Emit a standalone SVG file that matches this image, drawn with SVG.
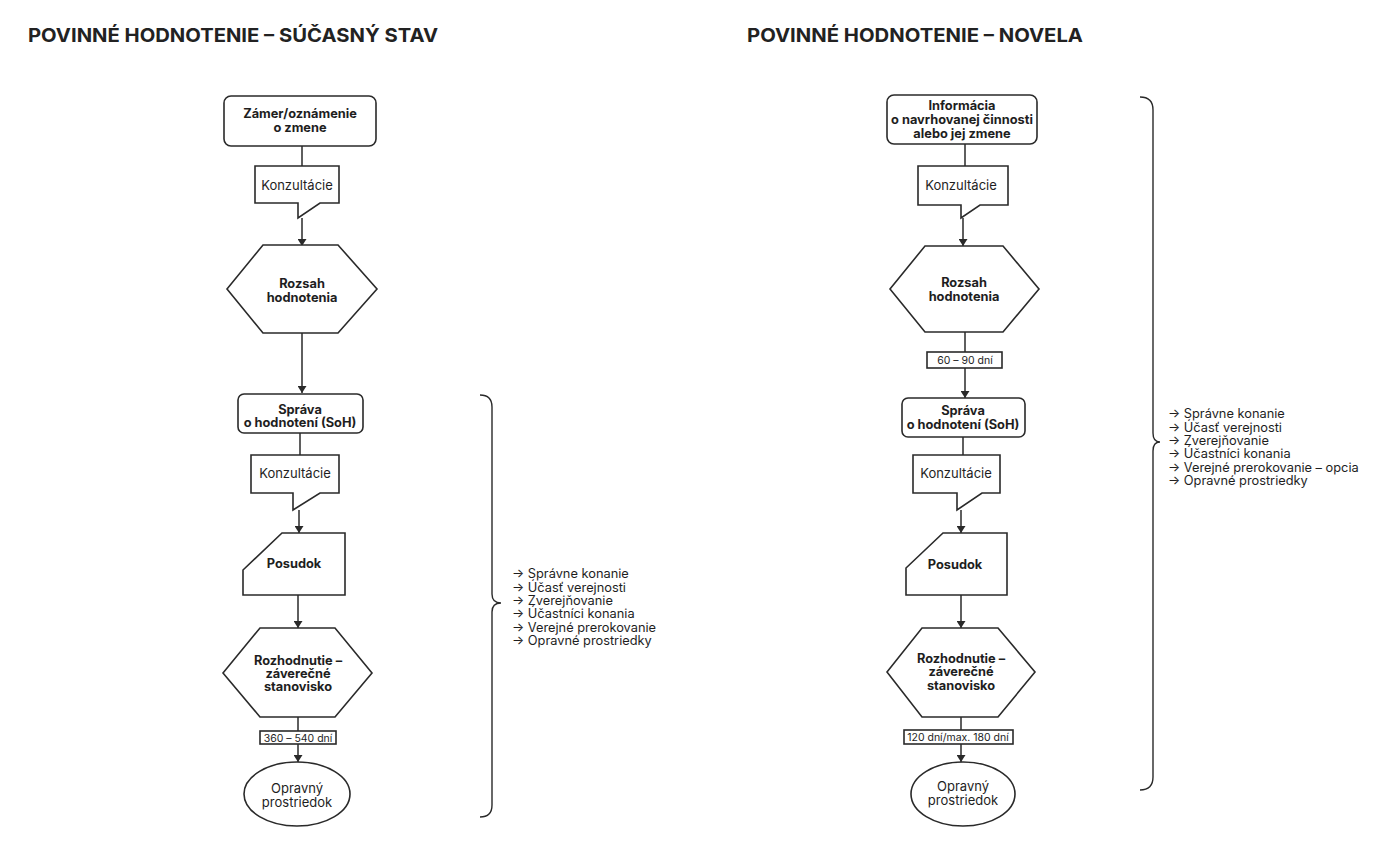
<svg xmlns="http://www.w3.org/2000/svg" width="1382" height="855" viewBox="0 0 1382 855">
<defs>
<marker id="ah" markerUnits="userSpaceOnUse" markerWidth="8" markerHeight="9" refX="7" refY="4.5" orient="auto">
<path d="M0,0 L7,4.5 L0,9 Z" fill="#2a2a2a"/>
</marker>
</defs>
<style>
.shape{fill:#fff;stroke:#2a2a2a;stroke-width:1.6}
.con{stroke:#2a2a2a;stroke-width:1.5;fill:none}
.arr{marker-end:url(#ah)}
.brace{fill:none;stroke:#2a2a2a;stroke-width:1.4}
text{font-family:Inter,"Liberation Sans",sans-serif;fill:#1e1e1e}
.title{font-size:19px;font-weight:700;fill:#222}
.b{font-size:12.8px;font-weight:700;text-anchor:middle}
.r{font-size:13px;text-anchor:middle}
.s{font-size:10.5px;text-anchor:middle}
.o{font-size:13px;text-anchor:middle}
.list{font-size:12.8px}
</style>
<rect width="1382" height="855" fill="#fff"/>
<text class="title" x="28" y="42" textLength="410" lengthAdjust="spacingAndGlyphs">POVINNÉ HODNOTENIE – SÚČASNÝ STAV</text>
<text class="title" x="747" y="42" textLength="336" lengthAdjust="spacingAndGlyphs">POVINNÉ HODNOTENIE – NOVELA</text>

<g id="connectors">
<line class="con" x1="302" y1="146" x2="302" y2="166"/>
<line class="con arr" x1="302" y1="218" x2="302" y2="246"/>
<line class="con arr" x1="302" y1="333" x2="302" y2="393"/>
<line class="con" x1="300" y1="433" x2="300" y2="455"/>
<line class="con arr" x1="299" y1="510" x2="299" y2="533"/>
<line class="con arr" x1="298" y1="595" x2="298" y2="628"/>
<line class="con" x1="298" y1="717" x2="298" y2="731"/>
<line class="con arr" x1="298" y1="744" x2="298" y2="762"/>
<line class="con" x1="965" y1="144" x2="965" y2="166"/>
<line class="con arr" x1="963" y1="218" x2="963" y2="246"/>
<line class="con" x1="965" y1="332" x2="965" y2="352"/>
<line class="con arr" x1="965" y1="368" x2="965" y2="398"/>
<line class="con" x1="963" y1="437" x2="963" y2="455"/>
<line class="con arr" x1="961" y1="510" x2="961" y2="533"/>
<line class="con arr" x1="961" y1="595" x2="961" y2="628"/>
<line class="con" x1="961" y1="717" x2="961" y2="730"/>
<line class="con arr" x1="961" y1="744" x2="961" y2="762"/>
</g>

<g id="l-zamer">
<rect class="shape" x="224" y="96" width="152" height="50" rx="7"/>
<text class="b" x="300" y="118">Zámer/oznámenie</text>
<text class="b" x="300" y="131.5">o zmene</text>
</g>
<g id="l-konz1">
<path class="shape" d="M255,166 H339 V203 H320 L298,218 V203 H255 Z"/>
<text class="r" x="297" y="190">Konzultácie</text>
</g>
<g id="l-rozsah">
<polygon class="shape" points="263,245 338,245 377,289 338,333 263,333 227,289"/>
<text class="b" x="302" y="288">Rozsah</text>
<text class="b" x="302" y="302">hodnotenia</text>
</g>
<g id="l-soh">
<rect class="shape" x="238" y="394" width="125" height="39" rx="6"/>
<text class="b" x="300" y="414">Správa</text>
<text class="b" x="300" y="427">o hodnotení (SoH)</text>
</g>
<g id="l-konz2">
<path class="shape" d="M251,455 H339 V493 H320 L293,510 V493 H251 Z"/>
<text class="r" x="295" y="478">Konzultácie</text>
</g>
<g id="l-posudok">
<polygon class="shape" points="282,533 345,533 345,595 243,595 243,570"/>
<text class="b" x="294" y="568">Posudok</text>
</g>
<g id="l-rozhodnutie">
<polygon class="shape" points="260,628 335,628 372,673 335,717 260,717 223,673"/>
<text class="b" x="298" y="665">Rozhodnutie –</text>
<text class="b" x="298" y="678">záverečné</text>
<text class="b" x="298" y="691">stanovisko</text>
</g>
<g id="l-lehota">
<rect class="shape" x="260" y="731" width="76" height="13" stroke-width="1.3"/>
<text class="s" x="298" y="741.5">360 – 540 dní</text>
</g>
<g id="l-opravny">
<ellipse class="shape" cx="297" cy="794" rx="53" ry="32"/>
<text class="o" x="297" y="793">Opravný</text>
<text class="o" x="297" y="807">prostriedok</text>
</g>
<g id="l-brace">
<path class="brace" d="M480,395 Q492,395 492,407 V594 Q492,603 501,603 Q492,603 492,612 V805 Q492,817 480,817"/>
<text class="list" x="512" y="578">→ Správne konanie</text>
<text class="list" x="512" y="591.5">→ Účasť verejnosti</text>
<text class="list" x="512" y="605">→ Zverejňovanie</text>
<text class="list" x="512" y="618">→ Účastníci konania</text>
<text class="list" x="512" y="631.5">→ Verejné prerokovanie</text>
<text class="list" x="512" y="645">→ Opravné prostriedky</text>
</g>

<g id="r-informacia">
<rect class="shape" x="887" y="95" width="150" height="49" rx="7"/>
<text class="b" x="962" y="110">Informácia</text>
<text class="b" x="962" y="124">o navrhovanej činnosti</text>
<text class="b" x="962" y="138">alebo jej zmene</text>
</g>
<g id="r-konz1">
<path class="shape" d="M918,166 H1008 V205 H980 L961,218 V205 H918 Z"/>
<text class="r" x="961" y="190">Konzultácie</text>
</g>
<g id="r-rozsah">
<polygon class="shape" points="925,246 1003,246 1039,289 1003,332 925,332 890,289"/>
<text class="b" x="964" y="287">Rozsah</text>
<text class="b" x="964" y="301">hodnotenia</text>
</g>
<g id="r-lehota1">
<rect class="shape" x="927" y="352" width="75" height="16" stroke-width="1.3"/>
<text class="s" x="965" y="364">60 – 90 dní</text>
</g>
<g id="r-soh">
<rect class="shape" x="902" y="398" width="123" height="39" rx="6"/>
<text class="b" x="963" y="415">Správa</text>
<text class="b" x="963" y="429">o hodnotení (SoH)</text>
</g>
<g id="r-konz2">
<path class="shape" d="M913,455 H1000 V493 H982 L957,510 V493 H913 Z"/>
<text class="r" x="956" y="478">Konzultácie</text>
</g>
<g id="r-posudok">
<polygon class="shape" points="943,533 1007,533 1007,595 906,595 906,568"/>
<text class="b" x="955" y="569">Posudok</text>
</g>
<g id="r-rozhodnutie">
<polygon class="shape" points="922,628 998,628 1035,672 998,717 922,717 887,672"/>
<text class="b" x="961" y="663">Rozhodnutie –</text>
<text class="b" x="961" y="676">záverečné</text>
<text class="b" x="961" y="690">stanovisko</text>
</g>
<g id="r-lehota2">
<rect class="shape" x="904" y="730" width="109" height="14" stroke-width="1.3"/>
<text class="s" x="958" y="741">120 dní/max. 180 dní</text>
</g>
<g id="r-opravny">
<ellipse class="shape" cx="963" cy="794" rx="52" ry="32"/>
<text class="o" x="963" y="791">Opravný</text>
<text class="o" x="963" y="805">prostriedok</text>
</g>
<g id="r-brace">
<path class="brace" d="M1140,97 Q1153,97 1153,110 V433 Q1153,442 1160,442 Q1153,442 1153,451 V777 Q1153,790 1140,790"/>
<text class="list" x="1168" y="418">→ Správne konanie</text>
<text class="list" x="1168" y="431.5">→ Účasť verejnosti</text>
<text class="list" x="1168" y="445">→ Zverejňovanie</text>
<text class="list" x="1168" y="458">→ Účastníci konania</text>
<text class="list" x="1168" y="471.5">→ Verejné prerokovanie – opcia</text>
<text class="list" x="1168" y="485">→ Opravné prostriedky</text>
</g>
</svg>
